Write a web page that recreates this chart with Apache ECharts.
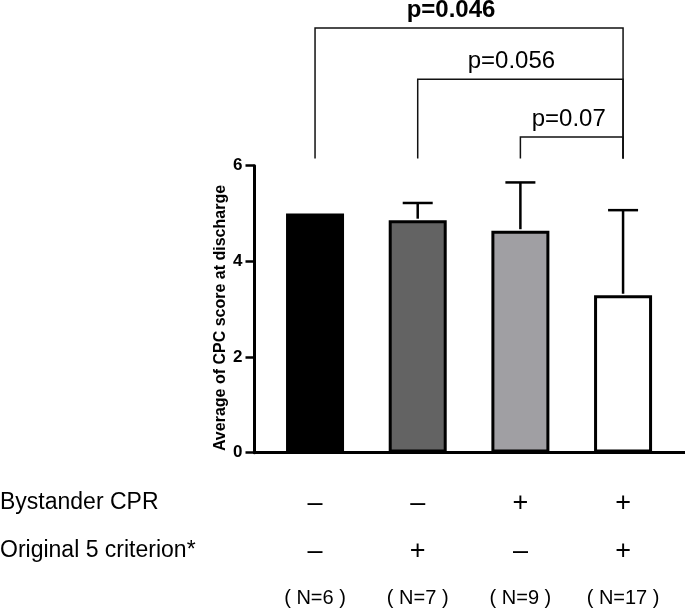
<!DOCTYPE html>
<html>
<head>
<meta charset="utf-8">
<script src="https://cdn.jsdelivr.net/npm/echarts@6/dist/echarts.min.js"></script>
<style>html,body{margin:0;padding:0;background:#fff;}#c{width:685px;height:608px;}</style>
</head>
<body>
<div id="c"></div>
<script>
// ---- data ----
const categories = ['BCPR-/O5-', 'BCPR-/O5+', 'BCPR+/O5-', 'BCPR+/O5+'];
const bystanderCPR = ['\u2013', '\u2013', '+', '+'];
const original5 = ['\u2013', '+', '\u2013', '+'];
const nLabels = ['( N=6 )', '( N=7 )', '( N=9 )', '( N=17 )'];
const means = [5.0, 4.86, 4.64, 3.29];
const upperErr = [5.0, 5.22, 5.65, 5.07];
const yTicks = [0, 2, 4, 6];
const bracketFrom = [0, 1, 2];
const bracketTo = [3, 3, 3];
const bracketTop = [8.88, 7.81, 6.60];
const bracketLegBottom = [6.15, 6.15, 6.15];
const pLabels = ['p=0.046', 'p=0.056', 'p=0.07'];
const pBold = [true, false, false];

// ---- styles ----
const barColors = ['#000000', '#636363', '#a09fa3', '#ffffff'];
const pLabelDx = [-18, -9, -3];
const FAM = 'Liberation Sans';
const FONT = 'Liberation Sans, Arial, sans-serif';

const chart = echarts.init(document.getElementById('c'), null, {renderer: 'canvas'});

const gridTop = 165.7, gridH = 287;
const yMin = yTicks[0], yMax = yTicks[yTicks.length - 1], yStep = yTicks[1] - yTicks[0];

const option = {
  animation: false,
  backgroundColor: '#ffffff',
  textStyle: {fontFamily: FAM},
  grid: [
    {left: 263.7, width: 410.7, top: gridTop, height: gridH},
    {left: 254.5, right: 0, top: gridTop, height: gridH}
  ],
  xAxis: [
    {
      gridIndex: 0, type: 'category', data: categories,
      axisLine: {show: false}, axisTick: {show: false},
      axisLabel: {
        margin: 27, interval: 0, fontFamily: FAM,
        formatter: function (v, i) {
          return '{s|' + bystanderCPR[i] + '}\n{s|' + original5[i] + '}\n{n|' + nLabels[i] + '}';
        },
        rich: {
          s: {fontFamily: FAM, fontSize: 27, lineHeight: 48, color: '#000', align: 'center'},
          n: {fontFamily: FAM, fontSize: 20, lineHeight: 45, color: '#000', align: 'center'}
        }
      }
    },
    {
      gridIndex: 1, type: 'value', min: 0, max: 1,
      axisLine: {show: true, lineStyle: {color: '#000', width: 3}},
      axisTick: {show: false}, axisLabel: {show: false}, splitLine: {show: false}
    }
  ],
  yAxis: [
    {gridIndex: 0, type: 'value', min: yMin, max: yMax, interval: yStep, show: false},
    {
      gridIndex: 1, type: 'value', min: yMin, max: yMax, interval: yStep,
      axisLine: {show: true, lineStyle: {color: '#000', width: 3}},
      axisTick: {show: true, inside: false, length: 9, lineStyle: {color: '#000', width: 2.5}},
      axisLabel: {
        show: true, margin: 12, color: '#000', fontSize: 17, fontWeight: 'bold', fontFamily: FAM
      },
      splitLine: {show: false}
    }
  ],
  graphic: [
    {type: 'text', left: 0, top: 491, style: {text: 'Bystander CPR', font: '23px ' + FONT, fill: '#000'}},
    {type: 'text', left: 0, top: 539, style: {text: 'Original 5 criterion*', font: '23px ' + FONT, fill: '#000'}},
    {type: 'text', x: 221, y: 318, rotation: Math.PI / 2,
     style: {text: 'Average of CPC score at discharge', font: 'bold 16px ' + FONT, fill: '#000',
             align: 'center', verticalAlign: 'middle'}}
  ],
  series: [
    {
      type: 'bar', xAxisIndex: 0, yAxisIndex: 0, barWidth: 58,
      data: means.map(function (v, i) {
        return {value: v, itemStyle: {color: barColors[i], borderColor: '#000', borderWidth: 3}};
      })
    },
    {
      type: 'custom', xAxisIndex: 0, yAxisIndex: 0, clip: false, z: 5,
      data: means.map(function (m, i) { return [i, m, upperErr[i]]; }),
      renderItem: function (params, api) {
        const x = api.value(0), m = api.value(1), u = api.value(2);
        if (u <= m) return null;
        const p0 = api.coord([x, m]);
        const p1 = api.coord([x, u]);
        const cap = 15;
        const st = {stroke: '#000', lineWidth: 2.5};
        return {
          type: 'group',
          children: [
            {type: 'line', shape: {x1: p0[0], y1: p0[1] - 1.5, x2: p1[0], y2: p1[1]}, style: st},
            {type: 'line', shape: {x1: p1[0] - cap, y1: p1[1], x2: p1[0] + cap, y2: p1[1]}, style: st}
          ]
        };
      }
    },
    {
      type: 'custom', xAxisIndex: 0, yAxisIndex: 0, clip: false, z: 5,
      data: bracketFrom.map(function (f, i) { return [f, bracketTo[i], bracketTop[i], bracketLegBottom[i], i]; }),
      renderItem: function (params, api) {
        const a = api.value(0), b = api.value(1), top = api.value(2), leg = api.value(3), k = api.value(4);
        const pa = api.coord([a, top]), pb = api.coord([b, top]);
        const la = api.coord([a, leg]), lb = api.coord([b, leg]);
        const st = {stroke: '#111', lineWidth: 1.5, fill: null};
        return {
          type: 'group',
          children: [
            {type: 'polyline', shape: {points: [[la[0], la[1]], [pa[0], pa[1]], [pb[0], pb[1]], [lb[0], lb[1]]]}, style: st},
            {type: 'text', x: (pa[0] + pb[0]) / 2 + pLabelDx[k], y: pa[1] - 18,
             style: {text: pLabels[k], font: (pBold[k] ? 'bold ' : '') + '24px ' + FONT, fill: '#000',
                     align: 'center', verticalAlign: 'middle'}}
          ]
        };
      }
    }
  ]
};
chart.setOption(option);
</script>
</body>
</html>
